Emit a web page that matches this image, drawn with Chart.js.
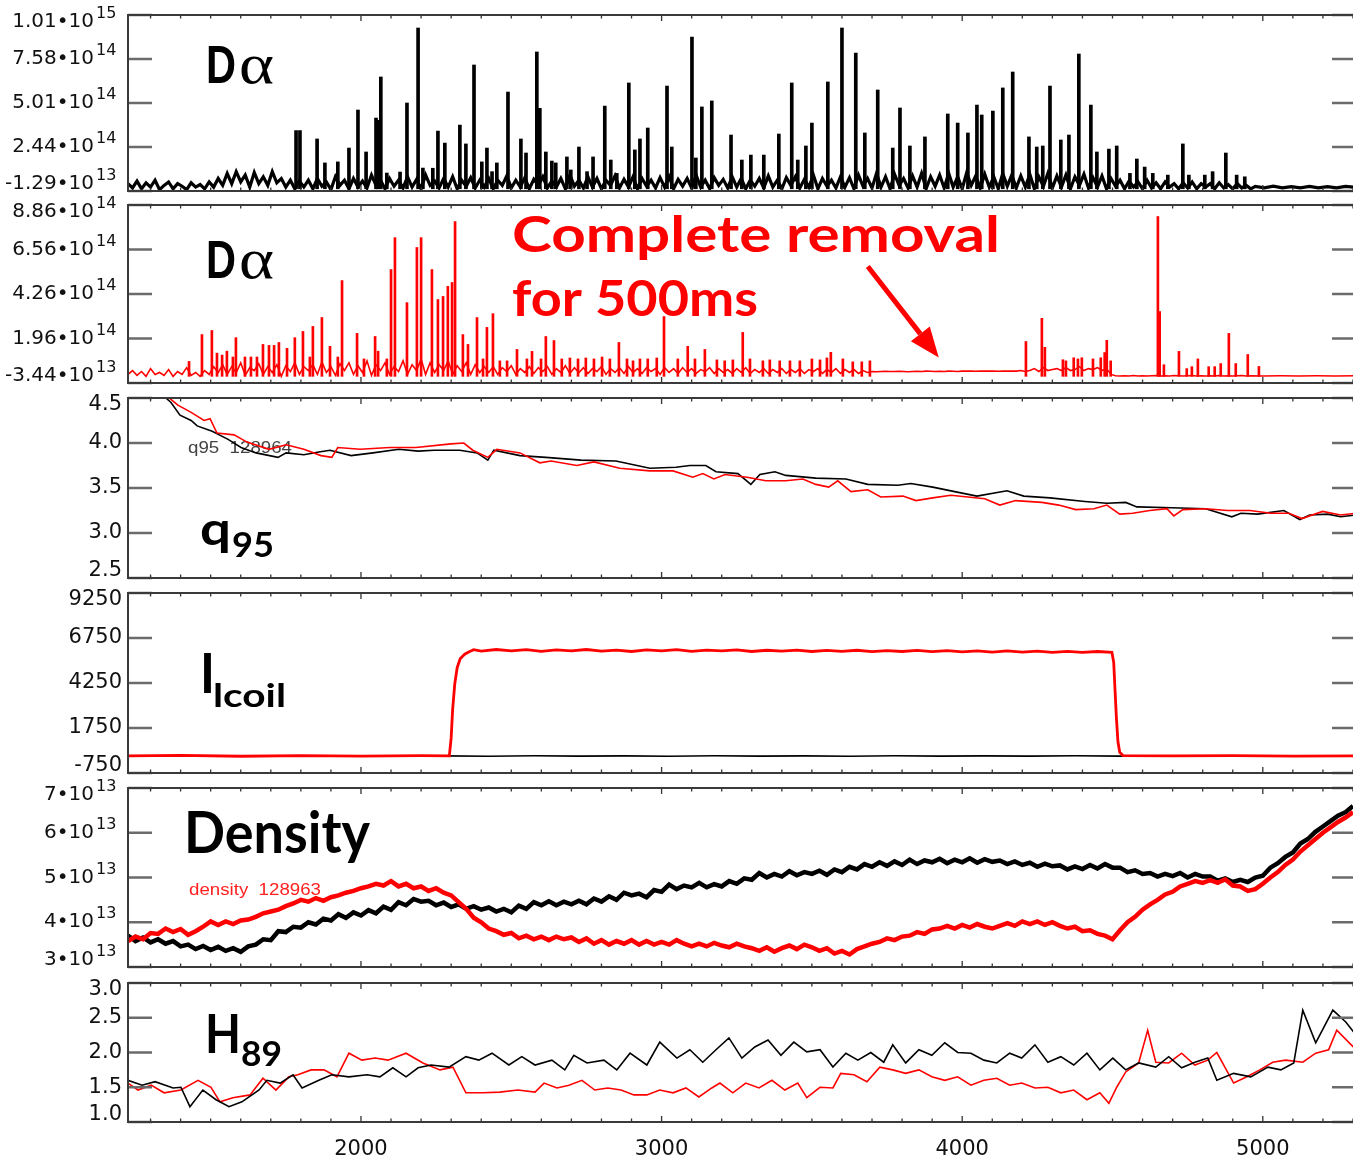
<!DOCTYPE html>
<html><head><meta charset="utf-8">
<script src="https://cdn.jsdelivr.net/npm/chart.js@4/dist/chart.umd.min.js"></script>
<style>
html,body{margin:0;padding:0;background:#fff;overflow:hidden;width:1353px;height:1158px;}
#wrap{position:relative;width:1353px;height:1158px;overflow:hidden;background:#fff;}
canvas{position:absolute;left:0;}
</style></head><body><div id="wrap"></div>
<script>
// ================= DATA =================
const xRange = [1225, 5310];
const xMajorTicks = [2000, 3000, 4000, 5000];
const xMinorTicks = [1300,1400,1500,1600,1700,1800,1900,2000,2100,2200,2300,2400,2500,2600,2700,2800,2900,3000,3100,3200,3300,3400,3500,3600,3700,3800,3900,4000,4100,4200,4300,4400,4500,4600,4700,4800,4900,5000,5100,5200,5300];

// Panel 1/2 (D-alpha), values in units of 1e14
const da1TickVals = [-0.129, 2.44, 5.01, 7.58, 10.149];
const da1TickLabels = ["-1.29•10", "2.44•10", "5.01•10", "7.58•10", "1.01•10"];
const da1TickExps = ["13", "14", "14", "14", "15"];
const da2TickVals = [-0.344, 1.96, 4.26, 6.56, 8.856];
const da2TickLabels = ["-3.44•10", "1.96•10", "4.26•10", "6.56•10", "8.86•10"];
const da2TickExps = ["13", "14", "14", "14", "14"];

const daBaseT = [1225,1240,1255,1270,1285,1300,1315,1330,1345,1360,1375,1390,1405,1420,1435,1450,1465,1480,1495,1510,
1525,1540,1555,1570,1585,1600,1615,1630,1645,1660,1675,1690,1705,1720,1735,1750,1765,1780,1795,1810,
1825,1840,1855,1870,1885,1900,1915,1930,1945,1960,1975,1990,2005,2020,2035,2050,2065,2080,2095,2110,
2125,2140,2155,2170,2185,2200,2215,2230,2245,2260,2275,2290,2305,2320,2335,2350,2365,2380,2395,2410,
2425,2440,2455,2470,2485,2500,2515,2530,2545,2560,2575,2590,2605,2620,2635,2650,2665,2680,2695,2710,
2725,2740,2755,2770,2785,2800,2815,2830,2845,2860,2875,2890,2905,2920,2935,2950,2965,2980,2995,3010,
3025,3040,3055,3070,3085,3100,3115,3130,3145,3160,3175,3190,3205,3220,3235,3250,3265,3280,3295,3310,
3325,3340,3355,3370,3385,3400,3415,3430,3445,3460,3475,3490,3505,3520,3535,3550,3565,3580,3595,3610,
3625,3640,3655,3670,3685,3700,3715,3730,3745,3760,3775,3790,3805,3820,3835,3850,3865,3880,3895,3910,
3925,3940,3955,3970,3985,4000,4015,4030,4045,4060,4075,4090,4105,4120,4135,4150,4165,4180,4195,4210,
4225,4240,4255,4270,4285,4300,4315,4330,4345,4360,4375,4390,4405,4420,4435,4450,4465,4480,4495,4510,
4525,4540,4555,4570,4585,4600,4615,4630,4645,4660,4675,4690,4705,4720,4735,4750,4765,4780,4795,4810,
4825,4840,4855,4870,4885,4900,4915,4930,4945,4960];

const daBlackBase = [0.3,0.05,0.45,0.0,0.35,0.1,0.5,-0.05,0.2,0.4,0.0,0.3,0.15,-0.05,0.35,0.1,0.25,0.0,0.4,0.1,
0.6,0.2,0.9,0.3,1.0,0.4,0.8,0.1,0.95,0.3,0.7,0.2,1.0,0.35,0.6,0.1,0.5,0.0,0.45,0.1,
0.5,0.0,0.6,0.15,0.4,-0.05,0.7,0.2,0.5,0.0,0.6,0.1,0.45,0.05,0.8,0.2,0.5,0.0,0.6,0.15,
0.5,0.05,0.7,0.1,0.55,0.0,0.8,0.2,0.45,0.05,0.6,0.1,0.7,0.0,0.5,0.15,0.65,0.05,0.5,0.1,
0.6,0.0,0.5,0.2,0.75,0.05,0.5,0.1,0.65,0.0,0.55,0.2,0.7,0.05,0.45,0.1,0.6,0.0,0.8,0.15,
0.5,0.05,0.7,0.1,0.6,0.0,0.5,0.2,0.75,0.05,0.55,0.1,0.7,0.0,0.6,0.15,0.5,0.05,0.65,0.1,
0.7,0.0,0.55,0.15,0.6,0.05,0.8,0.1,0.5,0.0,0.65,0.2,0.55,0.05,0.7,0.1,0.6,0.0,0.5,0.15,
0.6,0.05,0.75,0.1,0.5,0.0,0.65,0.2,0.7,0.05,0.55,0.1,0.8,0.0,0.6,0.15,0.5,0.05,0.7,0.1,
0.65,0.0,0.8,0.15,0.6,0.05,0.9,0.1,0.7,0.0,0.85,0.2,0.6,0.05,0.75,0.1,0.9,0.0,0.7,0.15,
0.8,0.05,0.9,0.1,0.7,0.0,0.95,0.2,0.75,0.05,0.85,0.1,0.7,0.0,0.9,0.15,0.8,0.05,0.75,0.1,
0.85,0.0,0.7,0.15,0.9,0.05,0.75,0.1,0.8,0.0,0.7,0.2,0.85,0.05,0.65,0.1,0.75,0.0,0.6,0.15,
0.5,0.0,0.45,0.1,0.4,0.0,0.5,0.05,0.35,0.0,0.4,0.1,0.3,0.0,0.35,0.05,0.4,0.0,0.3,0.1,
0.3,0.0,0.35,0.05,0.25,0.0,0.3,0.05,0.2,0.0];
const daBlackTail = [[4975,0.14],[5005,0.06],[5035,0.15],[5065,0.05],[5095,0.13],[5125,0.06],[5155,0.14],[5185,0.05],[5215,0.13],[5245,0.06],[5275,0.14],[5310,0.08]];
const daBlackSpikes = [[1784,3.4],[1797,3.4],[1854,2.91],[1880,1.51],[1923,1.57],[1960,2.38],[1990,4.6],[2017,2.15],[2050,4.13],[2056,4.0],
[2066,6.53],[2086,0.92],[2130,0.98],[2153,5.01],[2190,9.39],[2206,1.21],[2239,1.2],[2256,3.37],[2279,2.67],[2329,3.72],
[2349,2.62],[2376,7.23],[2402,1.57],[2419,2.38],[2436,1.0],[2452,1.51],[2489,5.65],[2532,2.91],[2549,2.09],[2585,7.99],
[2595,4.7],[2615,2.15],[2635,1.62],[2648,1.51],[2685,1.86],[2698,1.1],[2725,2.44],[2752,1.0],[2772,1.86],[2811,4.83],
[2831,1.68],[2851,0.9],[2891,6.18],[2911,2.27],[2928,2.91],[2954,3.55],[3018,6.0],[3034,2.44],[3101,8.86],[3114,1.8],
[3134,4.78],[3167,5.13],[3231,3.14],[3267,1.68],[3297,1.97],[3340,1.97],[3390,3.2],[3433,6.18],[3453,1.68],[3480,2.5],
[3500,3.84],[3553,6.24],[3600,9.39],[3646,7.93],[3676,3.26],[3719,5.77],[3769,2.38],[3793,4.72],[3826,2.5],[3876,3.03],
[3952,4.37],[3985,3.84],[4019,3.26],[4049,4.89],[4065,4.31],[4102,4.54],[4135,5.89],[4168,6.82],[4222,3.03],[4248,2.44],
[4268,2.5],[4292,6.0],[4328,2.85],[4355,3.14],[4388,7.87],[4428,4.89],[4448,2.15],[4488,2.32],[4514,2.5],[4558,0.9],
[4581,1.74],[4607,1.27],[4634,0.9],[4684,0.8],[4734,2.62],[4754,0.8],[4807,0.8],[4833,1.0],[4877,2.09],[4913,0.8],[4940,0.7]];

const daRedBase = [0.1,0.3,0.05,0.25,0.0,0.4,0.1,0.2,0.05,0.35,0.0,0.25,0.1,0.45,0.05,0.2,0.0,0.3,0.1,0.5,
0.2,0.6,0.1,0.5,0.2,0.7,0.05,0.45,0.3,0.65,0.1,0.5,0.2,0.6,0.0,0.55,0.25,0.7,0.1,0.5,
0.3,0.6,0.1,0.75,0.2,0.5,0.05,0.65,0.3,0.7,0.1,0.55,0.2,0.8,0.05,0.6,0.3,0.7,0.1,0.5,
0.25,0.8,0.1,0.6,0.3,0.9,0.1,0.7,0.2,0.6,0.3,0.8,0.1,0.55,0.25,0.7,0.1,0.6,0.2,0.5,
0.2,0.5,0.1,0.45,0.25,0.55,0.1,0.4,0.2,0.5,0.15,0.45,0.25,0.5,0.1,0.4,0.2,0.55,0.15,0.45,
0.2,0.45,0.15,0.4,0.25,0.5,0.1,0.4,0.2,0.45,0.15,0.5,0.2,0.4,0.15,0.45,0.25,0.4,0.1,0.45,
0.2,0.4,0.15,0.45,0.2,0.4,0.15,0.35,0.25,0.45,0.15,0.4,0.2,0.35,0.15,0.4,0.2,0.45,0.15,0.35,
0.2,0.4,0.15,0.35,0.2,0.4,0.15,0.35,0.2,0.4,0.15,0.35,0.25,0.4,0.15,0.35,0.2,0.4,0.15,0.35,
0.2,0.35,0.15,0.3,0.2,0.25,0.24,0.25,0.26,0.25,0.25,0.26,0.25,0.24,0.25,0.26,0.25,0.27,0.26,0.25,
0.26,0.25,0.27,0.26,0.25,0.27,0.28,0.27,0.26,0.28,0.27,0.28,0.27,0.26,0.28,0.27,0.28,0.27,0.3,0.25,
0.3,0.4,0.25,0.45,0.3,0.35,0.4,0.3,0.45,0.3,0.35,0.5,0.3,0.4,0.35,0.45,0.3,0.4,0.1,0.03,
0.02,0.03,0.02,0.04,0.02,0.03,0.02,0.03,0.04,0.02,0.03,0.02,0.04,0.03,0.02,0.03,0.04,0.02,0.03,0.02,
0.03,0.02,0.04,0.02,0.03,0.02,0.03,0.04,0.02,0.03];
const daRedTail = [[5000,0.02],[5060,0.03],[5120,0.02],[5180,0.03],[5240,0.02],[5310,0.03]];
const daRedSpikes = [[1428,0.77],[1471,2.16],[1504,2.37],[1521,1.2],[1538,1.1],[1554,1.3],[1574,1.0],[1584,2.0],[1614,1.0],[1634,1.0],
[1654,1.0],[1674,1.65],[1694,1.6],[1711,1.6],[1727,1.75],[1754,1.45],[1780,2.0],[1807,2.32],[1830,1.0],[1840,2.58],
[1870,3.04],[1897,1.55],[1923,1.0],[1937,4.95],[1987,2.22],[2010,0.9],[2047,2.06],[2057,1.3],[2086,0.9],[2100,5.52],
[2113,7.17],[2153,3.81],[2186,6.66],[2200,7.17],[2236,5.52],[2256,3.97],[2273,4.13],[2289,4.65],[2303,4.85],[2313,8.0],
[2339,2.16],[2356,1.65],[2386,3.04],[2406,0.9],[2419,2.53],[2439,3.24],[2462,0.8],[2486,0.8],[2519,1.39],[2552,0.9],
[2569,1.29],[2599,0.9],[2615,2.06],[2642,1.85],[2668,0.9],[2695,0.95],[2722,0.9],[2748,0.95],[2775,0.9],[2802,1.0],
[2828,0.9],[2858,1.75],[2885,0.9],[2905,0.8],[2928,0.9],[2954,0.9],[2984,0.95],[3008,3.09],[3054,0.9],[3087,1.55],
[3111,0.9],[3144,1.39],[3184,0.85],[3210,0.8],[3237,0.85],[3270,2.27],[3294,0.9],[3337,0.8],[3360,0.85],[3393,0.8],
[3427,0.8],[3460,0.8],[3500,0.9],[3527,0.85],[3550,0.95],[3563,1.24],[3603,0.9],[3636,0.75],[3666,0.75],[3693,0.8],
[4212,1.8],[4265,3.0],[4275,1.5],[4335,0.86],[4345,0.8],[4371,0.96],[4385,0.9],[4398,0.96],[4435,0.9],[4461,0.96],
[4474,1.23],[4481,1.86],[4494,0.8],[4651,8.26],[4657,3.35],[4671,0.6],[4721,1.29],[4747,0.4],[4764,0.5],[4784,0.9],
[4820,0.5],[4840,0.5],[4860,0.66],[4887,2.22],[4910,0.66],[4950,1.13],[4987,0.51]];

// Panel 3: q95
const q95TickVals = [2.5, 3.0, 3.5, 4.0, 4.5];
const q95TickLabels = ["2.5", "3.0", "3.5", "4.0", "4.5"];
const q95Black = [[1260,4.75],[1331,4.56],[1368,4.45],[1398,4.31],[1435,4.25],[1455,4.19],[1505,4.13],[1558,4.04],[1601,3.95],[1651,3.89],[1724,3.84],[1751,3.89],[1810,3.87],[1860,3.9],[1897,3.92],[1967,3.86],[2040,3.89],[2126,3.93],[2190,3.91],[2243,3.92],[2329,3.92],[2386,3.89],[2422,3.81],[2442,3.92],[2529,3.86],[2615,3.84],[2732,3.81],[2848,3.8],[2961,3.72],[3048,3.73],[3094,3.75],[3147,3.75],[3181,3.68],[3254,3.66],[3297,3.54],[3327,3.65],[3377,3.68],[3413,3.64],[3513,3.61],[3613,3.6],[3686,3.54],[3786,3.53],[3829,3.55],[3902,3.51],[3975,3.46],[4049,3.41],[4149,3.47],[4205,3.41],[4292,3.39],[4408,3.35],[4481,3.33],[4544,3.34],[4581,3.29],[4697,3.28],[4810,3.27],[4897,3.18],[4927,3.22],[4983,3.21],[5070,3.25],[5123,3.15],[5156,3.2],[5216,3.21],[5259,3.18],[5310,3.2]];
const q95Red = [[1270,4.75],[1348,4.54],[1391,4.42],[1435,4.34],[1478,4.25],[1498,4.27],[1521,4.11],[1578,4.09],[1621,4.01],[1694,3.93],[1751,3.98],[1810,3.93],[1867,3.86],[1903,3.84],[1923,3.95],[1997,3.93],[2096,3.95],[2183,3.95],[2299,3.99],[2342,4.0],[2372,3.92],[2422,3.84],[2452,3.93],[2529,3.89],[2595,3.78],[2632,3.8],[2718,3.75],[2775,3.79],[2861,3.72],[2961,3.69],[3038,3.69],[3104,3.62],[3137,3.66],[3174,3.6],[3211,3.65],[3284,3.62],[3347,3.58],[3413,3.58],[3470,3.6],[3513,3.54],[3556,3.51],[3586,3.58],[3630,3.46],[3686,3.48],[3729,3.4],[3803,3.41],[3846,3.36],[3902,3.39],[3962,3.42],[4019,3.4],[4075,3.38],[4125,3.31],[4178,3.36],[4265,3.34],[4321,3.31],[4378,3.26],[4438,3.27],[4481,3.31],[4524,3.21],[4567,3.22],[4624,3.25],[4681,3.27],[4704,3.19],[4734,3.26],[4810,3.27],[4883,3.25],[4957,3.25],[5027,3.22],[5087,3.22],[5130,3.16],[5199,3.24],[5259,3.2],[5310,3.22]];

// Panel 4: I-coil current
const ilTickVals = [-750, 1750, 4250, 6750, 9250];
const ilTickLabels = ["-750", "1750", "4250", "6750", "9250"];
const ilBlack = [[1225,190],[1375,210],[1525,180],[1675,200],[1825,185],[1975,205],[2125,190],[2275,200],[2425,180],[2575,205],[2725,185],[2875,200],[3025,180],[3175,205],[3325,190],[3475,200],[3625,180],[3775,205],[3925,190],[4075,200],[4225,185],[4375,205],[4525,190],[4675,200],[4825,185],[4975,200],[5125,190],[5310,200]];
const ilRed = [[1225,200],[1400,230],[1600,180],[1800,220],[2000,185],[2200,215],[2294,200],[2300,1200],[2305,2800],[2312,4200],[2320,5100],[2330,5600],[2345,5850],[2360,5980],[2375,6100],[2400,6020],[2450,6110],[2500,6030],[2550,6100],[2600,6010],[2650,6090],[2700,6040],[2750,6110],[2800,6020],[2850,6080],[2900,6000],[2950,6090],[3000,6030],[3050,6100],[3100,6010],[3150,6080],[3200,6030],[3250,6090],[3300,6000],[3350,6070],[3400,6020],[3450,6080],[3500,6000],[3550,6060],[3600,6010],[3650,6070],[3700,5990],[3750,6050],[3800,6000],[3850,6060],[3900,5990],[3950,6050],[4000,5980],[4050,6040],[4100,5970],[4150,6030],[4200,5960],[4250,6020],[4300,5950],[4350,6010],[4400,5950],[4450,6000],[4498,5950],[4504,5400],[4508,4000],[4513,2300],[4518,1000],[4524,400],[4535,220],[4700,200],[4900,215],[5100,185],[5310,200]];

// Panel 5: density, units of 1e13
const denTickVals = [3, 4, 5, 6, 7];
const denTickLabels = ["3•10", "4•10", "5•10", "6•10", "7•10"];
const denTickExps = ["13", "13", "13", "13", "13"];
const denT = [1225,1250,1275,1300,1325,1350,1375,1400,1425,1450,1475,1500,1525,1550,1575,1600,
1625,1650,1675,1700,1725,1750,1775,1800,1825,1850,1875,1900,1925,1950,1975,2000,
2025,2050,2075,2100,2125,2150,2175,2200,2225,2250,2275,2300,2325,2350,2375,2400,
2425,2450,2475,2500,2525,2550,2575,2600,2625,2650,2675,2700,2725,2750,2775,2800,
2825,2850,2875,2900,2925,2950,2975,3000,3025,3050,3075,3100,3125,3150,3175,3200,
3225,3250,3275,3300,3325,3350,3375,3400,3425,3450,3475,3500,3525,3550,3575,3600,
3625,3650,3675,3700,3725,3750,3775,3800,3825,3850,3875,3900,3925,3950,3975,4000,
4025,4050,4075,4100,4125,4150,4175,4200,4225,4250,4275,4300,4325,4350,4375,4400,
4425,4450,4475,4500,4525,4550,4575,4600,4625,4650,4675,4700,4725,4750,4775,4800,
4825,4850,4875,4900,4925,4950,4975,5000,5025,5050,5075,5100,5125,5150,5175,5200,
5225,5250,5275,5300];
const denBlack = [3.7,3.58,3.66,3.55, 3.62,3.52,3.58,3.46, 3.5,3.4,3.47,3.38, 3.45,3.36,3.42,3.34, 3.46,3.5,3.62,3.6, 3.8,3.78,3.9,3.88, 4.0,3.95,4.08,4.04, 4.18,4.1,4.22,4.15, 4.27,4.2,4.35,4.28, 4.45,4.38,4.52,4.46, 4.48,4.38,4.44,4.34, 4.4,4.3,4.36,4.28, 4.33,4.24,4.3,4.22, 4.37,4.3,4.45,4.38, 4.47,4.38,4.46,4.4, 4.48,4.4,4.53,4.46, 4.58,4.5,4.66,4.6, 4.64,4.56,4.72,4.68, 4.84,4.74,4.82,4.78, 4.88,4.78,4.85,4.8, 4.92,4.86,4.98,4.95, 5.1,5.0,5.08,5.02, 5.14,5.05,5.12,5.08, 5.15,5.06,5.18,5.12, 5.24,5.18,5.3,5.24, 5.34,5.26,5.36,5.28, 5.4,5.3,5.38,5.34, 5.42,5.32,5.4,5.34, 5.43,5.33,5.41,5.35, 5.38,5.3,5.36,5.28, 5.33,5.24,5.31,5.25, 5.27,5.18,5.25,5.19, 5.28,5.2,5.3,5.22, 5.22,5.12,5.16,5.08, 5.1,5.02,5.08,5.03, 5.1,5.0,5.08,5.02, 5.02,4.93,4.98,4.9, 4.95,4.9,5.0,5.04, 5.22,5.32,5.46,5.56, 5.76,5.86,6.02,6.14, 6.26,6.38,6.46,6.6];
const denRed = [3.58,3.68,3.62,3.76, 3.74,3.86,3.78,3.85, 3.72,3.8,3.9,4.02, 3.94,4.02,3.96,4.04, 4.06,4.12,4.2,4.24, 4.28,4.36,4.42,4.5, 4.46,4.54,4.48,4.56, 4.6,4.66,4.7,4.76, 4.8,4.86,4.82,4.92, 4.8,4.86,4.76,4.8, 4.7,4.76,4.66,4.6, 4.45,4.3,4.1,4.0, 3.86,3.8,3.72,3.76, 3.64,3.7,3.62,3.68, 3.6,3.68,3.62,3.66, 3.56,3.64,3.52,3.6, 3.5,3.58,3.52,3.6, 3.5,3.58,3.5,3.56, 3.5,3.6,3.52,3.46, 3.52,3.46,3.54,3.48, 3.44,3.52,3.46,3.42, 3.36,3.44,3.34,3.42, 3.48,3.4,3.5,3.44, 3.36,3.42,3.3,3.36, 3.28,3.4,3.46,3.52, 3.56,3.64,3.6,3.68, 3.7,3.78,3.74,3.84, 3.86,3.92,3.86,3.94, 3.88,3.96,3.9,3.86, 3.92,3.98,3.92,4.02, 3.96,4.02,3.94,4.0, 3.92,3.86,3.9,3.8, 3.82,3.74,3.7,3.62, 3.82,4.0,4.12,4.28, 4.4,4.5,4.62,4.68, 4.8,4.86,4.92,4.88, 4.94,4.88,4.96,4.82, 4.8,4.7,4.74,4.86, 5.0,5.12,5.28,5.4, 5.58,5.72,5.86,6.0, 6.12,6.24,6.34,6.46];

// Panel 6: H89
const h89TickVals = [1.0, 1.5, 2.0, 2.5, 3.0];
const h89TickLabels = ["1.0", "1.5", "2.0", "2.5", "3.0"];
const h89Black = [[1225,1.6],[1272,1.53],[1315,1.58],[1375,1.49],[1401,1.5],[1431,1.22],[1474,1.46],[1518,1.32],[1561,1.22],[1604,1.29],[1661,1.46],[1687,1.6],[1731,1.56],[1774,1.68],[1804,1.49],[1860,1.6],[1903,1.68],[1960,1.65],[2020,1.68],[2063,1.65],[2106,1.78],[2150,1.65],[2190,1.78],[2233,1.82],[2293,1.79],[2349,1.94],[2392,1.89],[2436,1.99],[2492,1.82],[2535,1.94],[2579,1.82],[2635,1.89],[2678,1.75],[2708,1.96],[2752,1.85],[2808,1.89],[2851,1.75],[2895,1.99],[2951,1.82],[2994,2.15],[3051,1.92],[3094,2.04],[3137,1.86],[3181,2.04],[3224,2.21],[3267,1.92],[3310,2.08],[3354,2.18],[3397,1.96],[3440,2.15],[3483,2.01],[3527,2.04],[3570,1.79],[3613,1.99],[3653,1.89],[3696,2.0],[3739,1.86],[3769,2.11],[3812,1.85],[3856,2.04],[3899,1.96],[3942,2.14],[3985,2.0],[4029,1.99],[4072,1.89],[4115,1.85],[4158,1.99],[4198,1.92],[4242,2.11],[4285,1.86],[4328,1.94],[4371,1.82],[4415,1.99],[4458,1.75],[4501,1.92],[4544,1.75],[4587,1.85],[4644,1.79],[4687,1.94],[4730,1.78],[4774,1.86],[4817,1.92],[4847,1.6],[4903,1.7],[4960,1.65],[5017,1.79],[5060,1.75],[5103,1.85],[5133,2.61],[5176,2.14],[5233,2.61],[5276,2.44],[5310,2.25]];
const h89Red = [[1225,1.56],[1258,1.46],[1302,1.53],[1345,1.42],[1401,1.46],[1458,1.6],[1501,1.5],[1531,1.29],[1574,1.35],[1631,1.39],[1674,1.63],[1717,1.46],[1760,1.65],[1790,1.68],[1834,1.75],[1877,1.75],[1920,1.65],[1960,1.99],[2003,1.89],[2047,1.92],[2090,1.89],[2150,1.99],[2206,1.85],[2263,1.75],[2306,1.79],[2349,1.42],[2406,1.42],[2462,1.43],[2522,1.46],[2579,1.43],[2609,1.56],[2652,1.49],[2692,1.53],[2735,1.6],[2778,1.46],[2821,1.49],[2865,1.46],[2908,1.39],[2951,1.39],[2994,1.46],[3038,1.42],[3081,1.49],[3124,1.36],[3167,1.49],[3194,1.56],[3237,1.42],[3280,1.56],[3324,1.49],[3367,1.6],[3410,1.46],[3453,1.56],[3483,1.35],[3527,1.5],[3570,1.49],[3596,1.7],[3640,1.68],[3683,1.58],[3726,1.79],[3769,1.75],[3812,1.7],[3856,1.75],[3899,1.65],[3942,1.6],[3985,1.65],[4029,1.53],[4072,1.6],[4115,1.63],[4158,1.53],[4198,1.56],[4242,1.49],[4285,1.5],[4328,1.42],[4371,1.46],[4415,1.32],[4458,1.42],[4488,1.27],[4514,1.5],[4544,1.72],[4587,1.85],[4617,2.32],[4644,1.86],[4687,1.85],[4730,1.99],[4774,1.82],[4817,1.89],[4847,2.0],[4903,1.56],[4947,1.65],[4990,1.75],[5033,1.86],[5076,1.89],[5133,1.86],[5176,1.99],[5219,2.04],[5246,2.32],[5310,2.04]];

// Annotation arrow (panel 2, data coordinates: time, 1e14)
const arrowFrom = [3686, 5.68];
const arrowTo = [3922, 0.97];

// ================= LAYOUT / STYLE =================
const PAD = 22;
const TICK_FAMILY = '"DejaVu Sans", "Liberation Sans", sans-serif';
const TICK_FONT = {family: TICK_FAMILY, size: 21};
const SCI_FONT = {family: TICK_FAMILY, size: 20};
const EXP_FONT = '16px ' + TICK_FAMILY;
const SCI_SHIFT = 28;
const TICK_COLOR = '#111';
const END_SHIFT_TOP = 7, END_SHIFT_BOTTOM = -7;
const BIG = '"Lato", "DejaVu Sans", sans-serif';

function pairs(ts, vs) { return ts.map((t, i) => ({x: t, y: vs[i]})); }
function pts(arr) { return arr.map(p => ({x: p[0], y: p[1]})); }
function lineDS(data, color, width) {
  return {type: 'line', data, borderColor: color, backgroundColor: color, borderWidth: width,
          pointRadius: 0, tension: 0, fill: false, borderJoinStyle: 'miter'};
}
function barDS(data, color, thick) {
  return {type: 'bar', data, backgroundColor: color, borderWidth: 0, barThickness: thick, grouped: false};
}

const panels = [
  {top: 15, bottom: 191, min: -0.129, max: 10.149, ticks: da1TickVals, labels: da1TickLabels, exps: da1TickExps,
   datasets: [barDS(pts(daBlackSpikes), '#000', 3),
              lineDS(pairs(daBaseT, daBlackBase).concat(pts(daBlackTail)), '#000', 3.2)],
   text: [
     {t: 'D', x: 206, y: 83, size: 54, weight: 'bold', family: '"Liberation Sans", Arial, sans-serif', w: 30, color: '#000'},
     {t: 'α', x: 239, y: 83, size: 58, weight: 'normal', family: '"Liberation Serif", "DejaVu Serif", serif', w: 35, color: '#000'}
   ]},
  {top: 205, bottom: 383, min: -0.344, max: 8.856, ticks: da2TickVals, labels: da2TickLabels, exps: da2TickExps,
   datasets: [barDS(pts(daRedSpikes), '#ff0000', 2),
              lineDS(pairs(daBaseT, daRedBase).concat(pts(daRedTail)), '#ff0000', 1.6)],
   arrow: true,
   text: [
     {t: 'D', x: 206, y: 278, size: 54, weight: 'bold', family: '"Liberation Sans", Arial, sans-serif', w: 30, color: '#000'},
     {t: 'α', x: 239, y: 278, size: 58, weight: 'normal', family: '"Liberation Serif", "DejaVu Serif", serif', w: 35, color: '#000'},
     {t: 'Complete removal', x: 512, y: 252, size: 49, weight: 'bold', family: BIG, w: 488, color: '#ff0000'},
     {t: 'for 500ms', x: 512, y: 316, size: 49, weight: 'bold', family: BIG, w: 246, color: '#ff0000'}
   ]},
  {top: 398, bottom: 578, min: 2.5, max: 4.5, ticks: q95TickVals, labels: q95TickLabels,
   datasets: [lineDS(pts(q95Red), '#ff0000', 1.6), lineDS(pts(q95Black), '#000', 1.6)],
   text: [
     {t: 'q95  128964', x: 188, y: 453, size: 16, weight: 'normal', family: '"Liberation Sans", Arial, sans-serif', w: 104, color: '#444'},
     {t: 'q', x: 200, y: 545, size: 46, weight: 'bold', family: BIG, w: 31, color: '#000'},
     {t: '95', x: 232, y: 557, size: 34, weight: 'bold', family: BIG, w: 42, color: '#000'}
   ]},
  {top: 593, bottom: 773, min: -750, max: 9250, ticks: ilTickVals, labels: ilTickLabels,
   datasets: [lineDS(pts(ilRed), '#ff0000', 2.8), lineDS(pts(ilBlack), '#000', 1.6)],
   text: [
     {t: 'I', x: 200, y: 693, size: 55, weight: 'bold', family: BIG, w: 15, color: '#000'},
     {t: 'lcoil', x: 213, y: 707, size: 33, weight: 'bold', family: BIG, w: 73, color: '#000'}
   ]},
  {top: 788, bottom: 967, min: 3, max: 7, ticks: denTickVals, labels: denTickLabels, exps: denTickExps,
   datasets: [lineDS(pairs(denT, denRed), '#ff0000', 4.5), lineDS(pairs(denT, denBlack), '#000', 4.5)],
   text: [
     {t: 'density  128963', x: 189, y: 895, size: 16, weight: 'normal', family: '"Liberation Sans", Arial, sans-serif', w: 132, color: '#ff2020'},
     {t: 'Density', x: 184, y: 853, size: 57, weight: 'bold', family: BIG, w: 186, color: '#000'}
   ]},
  {top: 983, bottom: 1122, min: 1.0, max: 3.0, ticks: h89TickVals, labels: h89TickLabels, last: true,
   datasets: [lineDS(pts(h89Black), '#000', 1.6), lineDS(pts(h89Red), '#ff0000', 1.6)],
   text: [
     {t: 'H', x: 205, y: 1053, size: 54, weight: 'bold', family: BIG, w: 36, color: '#000'},
     {t: '89', x: 241, y: 1066, size: 34, weight: 'bold', family: BIG, w: 41, color: '#000'}
   ]}
];

function drawText(ctx, r, offY) {
  ctx.save();
  ctx.font = `${r.weight} ${r.size}px ${r.family}`;
  ctx.fillStyle = r.color;
  ctx.textAlign = 'left';
  ctx.textBaseline = 'alphabetic';
  const w = ctx.measureText(r.t).width;
  ctx.translate(r.x, r.y - offY);
  ctx.scale(r.w / w, 1);
  ctx.fillText(r.t, 0, 0);
  ctx.restore();
}

function endShift(i, n) { return i === 0 ? END_SHIFT_BOTTOM : (i === n - 1 ? END_SHIFT_TOP : 0); }

function framePlugin(p, canvasTop) {
  return {
    id: 'frame',
    beforeDraw(chart) {
      // move the two end labels inward (as the original axis does) and make room for exponents
      const ys = chart.scales.y;
      const items = ys.getLabelItems(chart.chartArea);
      items.forEach((it, i) => {
        it.options.translation[1] += endShift(i, items.length);
        if (p.exps) it.options.translation[0] -= SCI_SHIFT;
      });
    },
    beforeDatasetsDraw(chart) {
      p.text.forEach(r => drawText(chart.ctx, r, canvasTop));
    },
    afterDraw(chart) {
      const ctx = chart.ctx, a = chart.chartArea, xs = chart.scales.x, ys = chart.scales.y;
      ctx.save();
      if (p.exps) {
        ctx.font = EXP_FONT; ctx.fillStyle = TICK_COLOR;
        ctx.textAlign = 'left'; ctx.textBaseline = 'middle';
        p.ticks.forEach((v, i) => {
          const py = ys.getPixelForValue(v) + endShift(i, p.ticks.length) - 8;
          ctx.fillText(p.exps[i], a.left - 6 - SCI_SHIFT + 2, py);
        });
      }
      ctx.lineCap = 'butt';
      ctx.strokeStyle = '#6b6b6b'; ctx.lineWidth = 2.5;
      p.ticks.forEach(v => {
        const py = ys.getPixelForValue(v);
        ctx.beginPath();
        ctx.moveTo(a.left, py); ctx.lineTo(a.left + 24, py);
        ctx.moveTo(a.right - 24, py); ctx.lineTo(a.right, py);
        ctx.stroke();
      });
      ctx.strokeStyle = '#333'; ctx.lineWidth = 1.3;
      xMinorTicks.forEach(t => {
        const px = xs.getPixelForValue(t);
        const L = xMajorTicks.includes(t) ? 6 : 3.5;
        ctx.beginPath();
        ctx.moveTo(px, a.top); ctx.lineTo(px, a.top + L);
        ctx.moveTo(px, a.bottom); ctx.lineTo(px, a.bottom - L);
        ctx.stroke();
      });
      ctx.strokeStyle = '#3a3a3a'; ctx.lineWidth = 2;
      ctx.strokeRect(a.left, a.top, a.right - a.left, a.bottom - a.top);
      if (p.arrow) {
        const x0 = xs.getPixelForValue(arrowFrom[0]), y0 = ys.getPixelForValue(arrowFrom[1]);
        const x1 = xs.getPixelForValue(arrowTo[0]), y1 = ys.getPixelForValue(arrowTo[1]);
        const ang = Math.atan2(y1 - y0, x1 - x0), L = 30, H = 12;
        const bx = x1 - L * Math.cos(ang), by = y1 - L * Math.sin(ang);
        ctx.strokeStyle = '#ff0000'; ctx.fillStyle = '#ff0000'; ctx.lineWidth = 5;
        ctx.beginPath(); ctx.moveTo(x0, y0); ctx.lineTo(bx, by); ctx.stroke();
        ctx.beginPath();
        ctx.moveTo(x1, y1);
        ctx.lineTo(bx + H * Math.sin(ang), by - H * Math.cos(ang));
        ctx.lineTo(bx - H * Math.sin(ang), by + H * Math.cos(ang));
        ctx.closePath(); ctx.fill();
      }
      ctx.restore();
    }
  };
}

const wrap = document.getElementById('wrap');
panels.forEach(p => {
  const cTop = p.top - PAD;
  const cH = p.last ? (1158 - cTop) : (p.bottom - p.top + 2 * PAD);
  const c = document.createElement('canvas');
  c.width = 1356; c.height = cH;
  c.style.top = cTop + 'px'; c.style.width = '1356px'; c.style.height = cH + 'px';
  wrap.appendChild(c);
  const xScale = {type: 'linear', min: xRange[0], max: xRange[1], offset: false, display: !!p.last,
      grid: {display: false, drawTicks: false}, border: {display: false},
      afterBuildTicks: s => { s.ticks = xMajorTicks.map(v => ({value: v})); },
      ticks: {font: TICK_FONT, color: TICK_COLOR, padding: 15, maxRotation: 0, autoSkip: false,
              callback: v => String(v)}};
  if (p.last) xScale.afterFit = s => { s.height = 36; };
  new Chart(c, {
    type: 'line',
    data: {datasets: p.datasets},
    plugins: [framePlugin(p, cTop)],
    options: {
      responsive: false, animation: false, events: [], devicePixelRatio: 1,
      layout: {padding: {top: PAD, bottom: p.last ? 0 : PAD, left: 0, right: 0}},
      plugins: {legend: {display: false}, tooltip: {enabled: false}},
      scales: {
        x: xScale,
        y: {type: 'linear', min: p.min, max: p.max,
            grid: {display: false, drawTicks: false}, border: {display: false},
            afterBuildTicks: s => { s.ticks = p.ticks.map(v => ({value: v})); },
            ticks: {font: p.exps ? SCI_FONT : TICK_FONT, color: TICK_COLOR, padding: 6,
                    autoSkip: false, callback: (v, i) => p.labels[i]},
            afterFit: s => { s.width = 128; }}
      }
    }
  });
});
</script>
</body></html>
